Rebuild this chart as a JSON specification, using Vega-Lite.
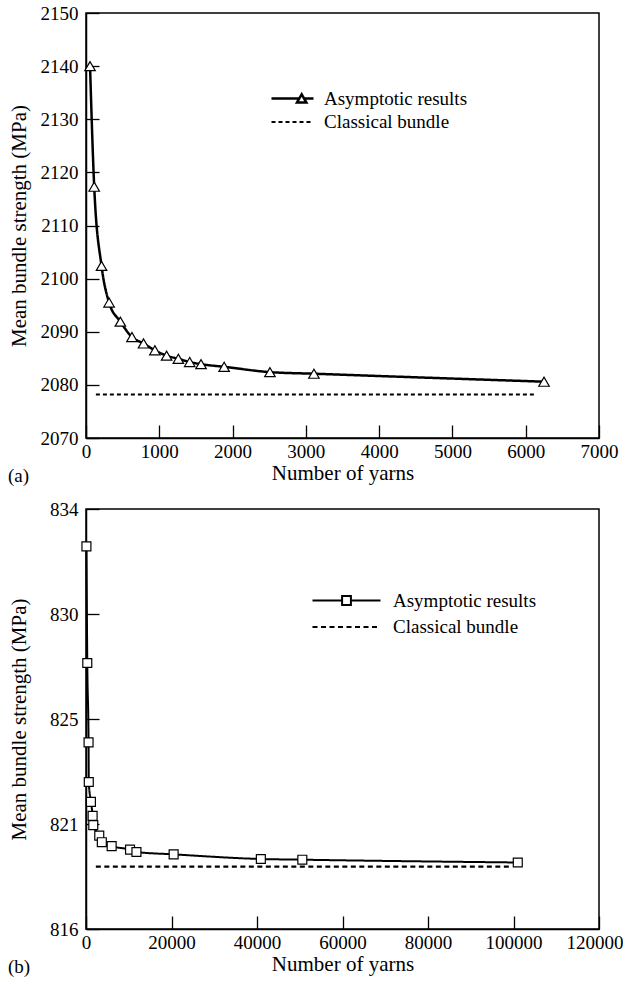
{
  "$schema": "https://vega.github.io/schema/vega-lite/v6.json",
  "padding": {"left": 7, "top": 3, "right": 0, "bottom": 0},
  "background": "white",
  "datasets": {
    "top": [
      {"n": 55, "s": 2140.0, "series": "Asymptotic results"},
      {"n": 112, "s": 2117.3, "series": "Asymptotic results"},
      {"n": 212, "s": 2102.4, "series": "Asymptotic results"},
      {"n": 315, "s": 2095.5, "series": "Asymptotic results"},
      {"n": 469, "s": 2091.9, "series": "Asymptotic results"},
      {"n": 627, "s": 2089.0, "series": "Asymptotic results"},
      {"n": 785, "s": 2087.8, "series": "Asymptotic results"},
      {"n": 940, "s": 2086.5, "series": "Asymptotic results"},
      {"n": 1100, "s": 2085.5, "series": "Asymptotic results"},
      {"n": 1260, "s": 2084.9, "series": "Asymptotic results"},
      {"n": 1415, "s": 2084.3, "series": "Asymptotic results"},
      {"n": 1570, "s": 2083.9, "series": "Asymptotic results"},
      {"n": 1885, "s": 2083.4, "series": "Asymptotic results"},
      {"n": 2510, "s": 2082.4, "series": "Asymptotic results"},
      {"n": 3110, "s": 2082.1, "series": "Asymptotic results"},
      {"n": 6250, "s": 2080.6, "series": "Asymptotic results"},
      {"n": 135, "s": 2078.2, "series": "Classical bundle"},
      {"n": 6150, "s": 2078.2, "series": "Classical bundle"}
    ],
    "bottom": [
      {"n": 100, "s": 832.4, "series": "Asymptotic results"},
      {"n": 300, "s": 827.4, "series": "Asymptotic results"},
      {"n": 600, "s": 824.0, "series": "Asymptotic results"},
      {"n": 650, "s": 822.3, "series": "Asymptotic results"},
      {"n": 1150, "s": 821.45, "series": "Asymptotic results"},
      {"n": 1550, "s": 820.85, "series": "Asymptotic results"},
      {"n": 1700, "s": 820.45, "series": "Asymptotic results"},
      {"n": 3100, "s": 820.0, "series": "Asymptotic results"},
      {"n": 3700, "s": 819.72, "series": "Asymptotic results"},
      {"n": 6000, "s": 819.55, "series": "Asymptotic results"},
      {"n": 10300, "s": 819.4, "series": "Asymptotic results"},
      {"n": 11800, "s": 819.3, "series": "Asymptotic results"},
      {"n": 20500, "s": 819.2, "series": "Asymptotic results"},
      {"n": 40900, "s": 819.0, "series": "Asymptotic results"},
      {"n": 50600, "s": 818.97, "series": "Asymptotic results"},
      {"n": 101000, "s": 818.85, "series": "Asymptotic results"},
      {"n": 2300, "s": 818.67, "series": "Classical bundle"},
      {"n": 99500, "s": 818.67, "series": "Classical bundle"}
    ]
  },
  "config": {
    "font": "Liberation Serif",
    "view": {"stroke": "black", "strokeWidth": 1.5},
    "axis": {
      "labelFont": "Liberation Serif", "labelFontSize": 19, "labelColor": "black",
      "titleFont": "Liberation Serif", "titleFontSize": 21, "titleFontWeight": "normal", "titleColor": "black",
      "domainColor": "black", "domainWidth": 1.5, "tickColor": "black", "tickWidth": 1.3,
      "tickSize": -13, "grid": false, "labelFlush": false
    },
    "axisX": {"labelPadding": 17, "titlePadding": 1},
    "axisY": {"labelPadding": 21, "titleX": -57},
    "legend": {
      "labelFont": "Liberation Serif", "labelFontSize": 19, "labelColor": "black",
      "symbolStrokeColor": "black", "symbolStrokeWidth": 1.8, "symbolFillColor": "white"
    },
    "title": {"font": "Liberation Serif", "fontSize": 19, "fontWeight": "normal", "color": "black"}
  },
  "spacing": 12,
  "resolve": {
    "scale": {"strokeDash": "independent", "strokeWidth": "independent"},
    "legend": {"strokeDash": "independent"}
  },
  "vconcat": [
    {
      "width": 513, "height": 425,
      "data": {"name": "top"},
      "title": {"text": "(a)", "orient": "bottom", "anchor": "start", "frame": "bounds", "offset": -16},
      "layer": [
        {
          "mark": {"type": "line", "interpolate": "monotone", "color": "black"},
          "encoding": {
            "x": {"field": "n", "type": "quantitative", "scale": {"domain": [0, 7000], "nice": false},
                  "axis": {"title": "Number of yarns", "values": [0, 1000, 2000, 3000, 4000, 5000, 6000, 7000], "format": "d"}},
            "y": {"field": "s", "type": "quantitative", "scale": {"domain": [2070, 2150], "nice": false, "zero": false},
                  "axis": {"title": "Mean bundle strength (MPa)", "values": [2070, 2080, 2090, 2100, 2110, 2120, 2130, 2140, 2150], "format": "d"}},
            "strokeDash": {"field": "series", "type": "nominal",
                  "scale": {"domain": ["Asymptotic results", "Classical bundle"], "range": [[1, 0], [4, 3]]},
                  "legend": {"title": null, "orient": "none", "legendX": 197, "legendY": 76, "symbolSize": 196, "labelOffset": 22, "rowPadding": 3.5,
                    "encode": {"symbols": {"update": {
                      "shape": {"signal": "datum.value === 'Asymptotic results' ? 'M-3,0H0.97M1.65,0H3M1.31,-0.6L1.98,0.57L0.64,0.57Z' : 'M-3,0H3'"},
                      "fill": {"value": "white"}, "stroke": {"value": "black"}}}}}},
            "strokeWidth": {"field": "series", "type": "ordinal",
                  "scale": {"domain": ["Asymptotic results", "Classical bundle"], "range": [2.5, 2]}, "legend": null}
          }
        },
        {
          "transform": [{"filter": "datum.series === 'Asymptotic results'"}],
          "mark": {"type": "point", "shape": "triangle-up", "filled": true, "fill": "white", "stroke": "black", "strokeWidth": 1.2, "size": 110, "opacity": 1},
          "encoding": {
            "x": {"field": "n", "type": "quantitative"},
            "y": {"field": "s", "type": "quantitative"}
          }
        }
      ]
    },
    {
      "width": 513, "height": 420,
      "data": {"name": "bottom"},
      "title": {"text": "(b)", "orient": "bottom", "anchor": "start", "frame": "bounds", "offset": -16},
      "layer": [
        {
          "mark": {"type": "line", "interpolate": "monotone", "color": "black"},
          "encoding": {
            "x": {"field": "n", "type": "quantitative", "scale": {"domain": [0, 120000], "nice": false},
                  "axis": {"title": "Number of yarns", "values": [0, 20000, 40000, 60000, 80000, 100000, 120000], "format": "d",
                    "labelAlign": {"condition": {"test": "datum.value === 120000", "value": "right"}, "value": "center"},
                    "labelOffset": {"condition": {"test": "datum.value === 120000", "value": 24}, "value": 0}}},
            "y": {"field": "s", "type": "quantitative", "scale": {"domain": [816, 834], "nice": false, "zero": false},
                  "axis": {"title": "Mean bundle strength (MPa)", "values": [816, 820.5, 825, 829.5, 834], "labelExpr": "format(round(datum.value), 'd')"}},
            "strokeDash": {"field": "series", "type": "nominal",
                  "scale": {"domain": ["Asymptotic results", "Classical bundle"], "range": [[1, 0], [5, 3.5]]},
                  "legend": {"title": null, "orient": "none", "legendX": 251, "legendY": 82, "symbolSize": 196, "labelOffset": 37, "rowPadding": 6.5,
                    "encode": {"symbols": {"update": {
                      "shape": {"signal": "datum.value === 'Asymptotic results' ? 'M-4.857,0H-0.63M0.63,0H4.857M-0.63,-0.63H0.63V0.63H-0.63Z' : 'M-4.857,0H4.857'"},
                      "fill": {"value": "white"}, "stroke": {"value": "black"}}}}}},
            "strokeWidth": {"field": "series", "type": "ordinal",
                  "scale": {"domain": ["Asymptotic results", "Classical bundle"], "range": [2, 2.2]}, "legend": null}
          }
        },
        {
          "transform": [{"filter": "datum.series === 'Asymptotic results'"}],
          "mark": {"type": "point", "shape": "square", "filled": true, "fill": "white", "stroke": "black", "strokeWidth": 1.2, "size": 80, "opacity": 1},
          "encoding": {
            "x": {"field": "n", "type": "quantitative"},
            "y": {"field": "s", "type": "quantitative"}
          }
        }
      ]
    }
  ]
}
